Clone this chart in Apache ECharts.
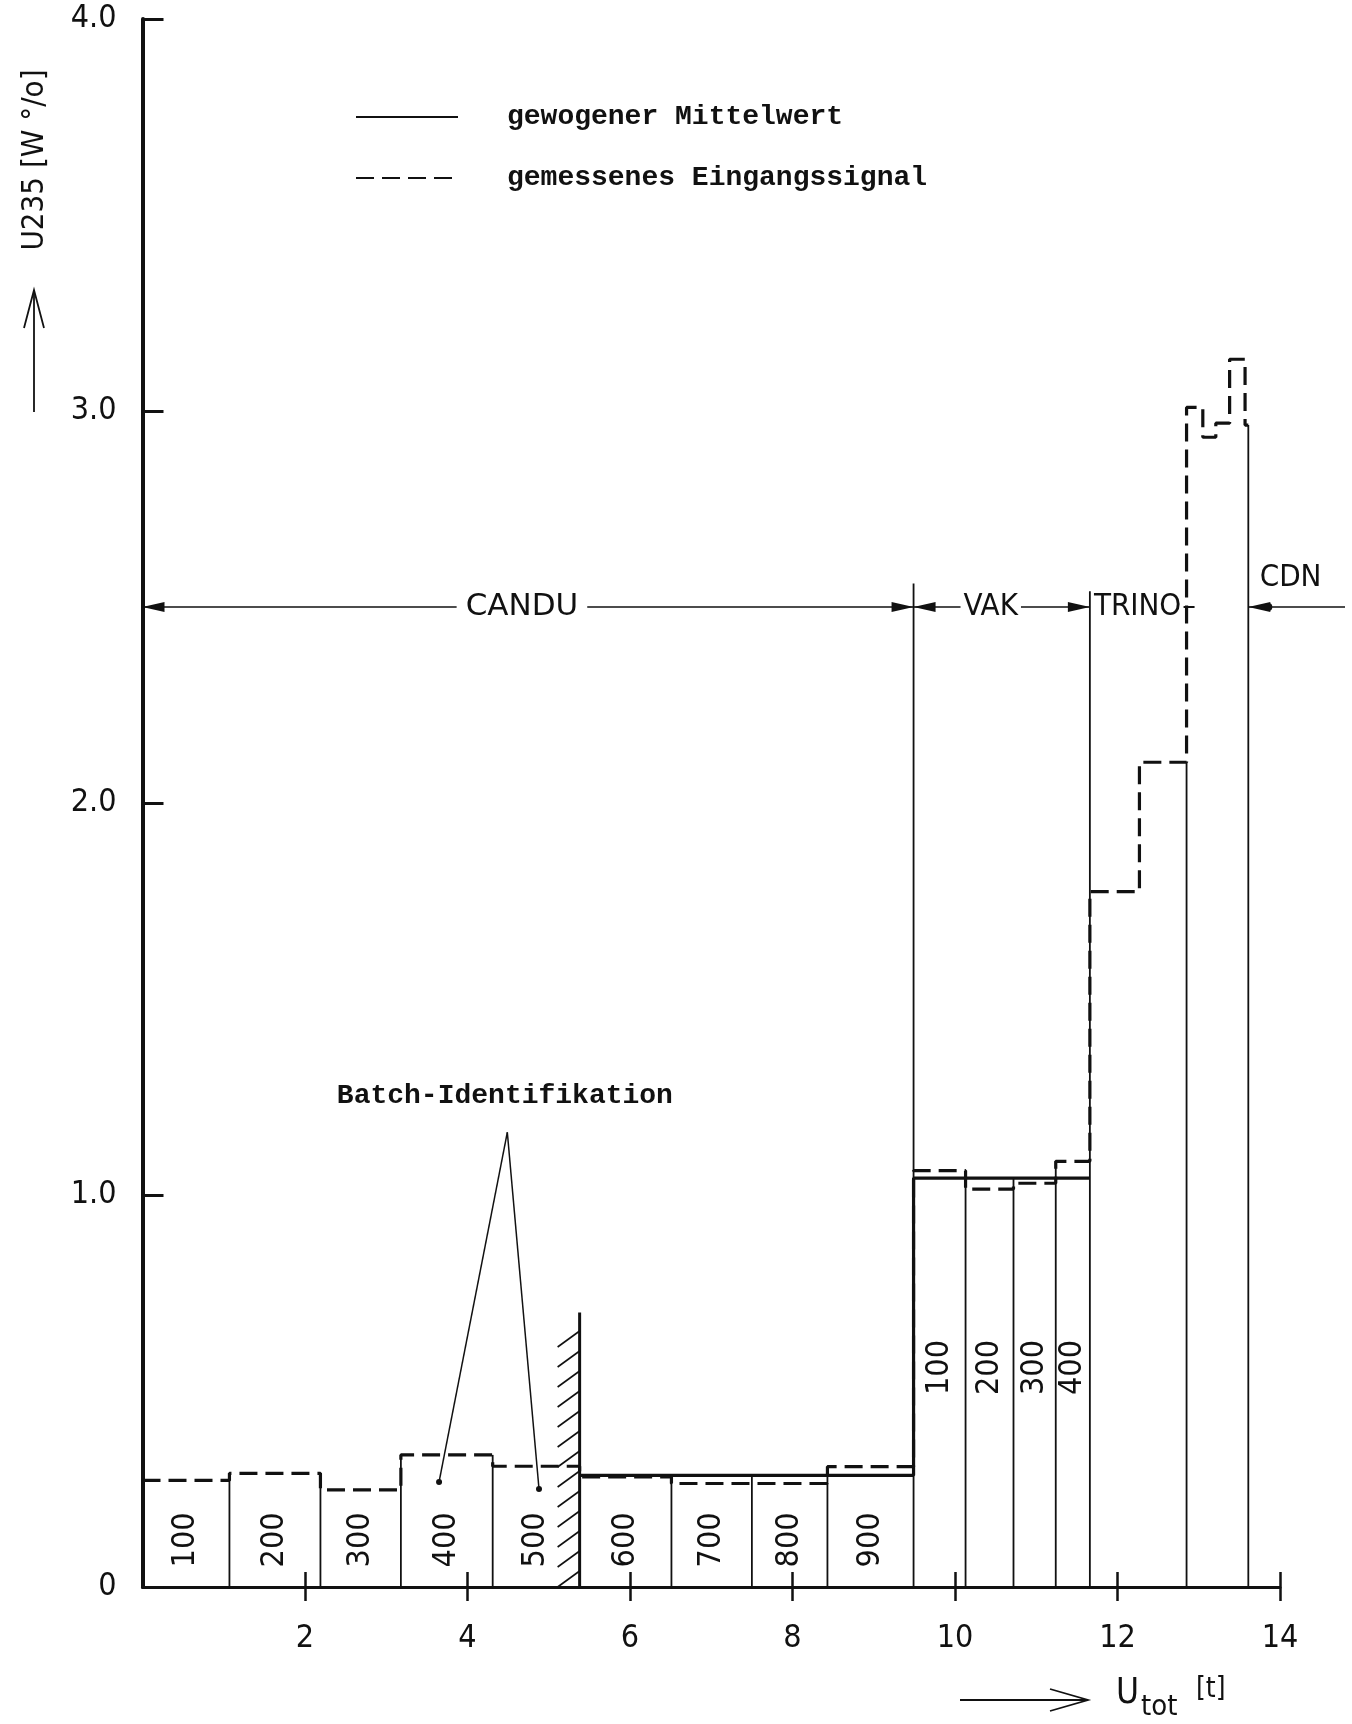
<!DOCTYPE html>
<html><head><meta charset="utf-8">
<script src="https://cdn.jsdelivr.net/npm/echarts@6/dist/echarts.min.js"></script>
<style>html,body{margin:0;padding:0;background:#fff}#c{width:1352px;height:1724px}</style>
</head><body><div id="c"></div>
<script>
// ---------------- data ----------------
const binEdges = [0, 1.07, 2.19, 3.18, 4.31, 5.38, 6.51, 7.50, 8.43, 9.49, 10.13, 10.72, 11.24, 11.66, 12.27, 12.85, 13.05, 13.21, 13.38, 13.57, 13.61];
const signalLevels = [0.272, 0.290, 0.248, 0.337, 0.308, 0.281, 0.264, 0.264, 0.307, 1.062, 1.015, 1.030, 1.086, 1.774, 2.104, 3.009, 2.933, 2.969, 3.132, 2.964];
const meanSegments = [[5.38, 9.49, 0.285], [9.49, 11.66, 1.043]];
const batchLabels = ['100', '200', '300', '400', '500', '600', '700', '800', '900', '100', '200', '300', '400'];
const batchLabelY = [0.12, 0.12, 0.12, 0.12, 0.12, 0.12, 0.12, 0.12, 0.12, 0.56, 0.56, 0.56, 0.56];
const dividerEdgeIdx = [1, 2, 3, 4, 6, 7, 8, 10, 11, 12];
const segmentLines = [[9.49, 2.56], [11.66, 2.54], [12.85, 2.104], [13.61, 2.964]];
const sourceNames = ['CANDU', 'VAK', 'TRINO', 'CDN'];
const sourceLabelX = [4.67, 10.44, 11.66, 14.13];
const bracketY = 2.5;
const cdnLineEnd = 14.8;
const hatch = [5.38, 0.70];
const batchIdText = 'Batch-Identifikation';
const batchIdPos = [4.46, 1.253];
const batchIdApex = [4.49, 1.16];
const batchIdTargets = [[3.65, 0.268], [4.88, 0.25]];
const xTickValues = [2, 4, 6, 8, 10, 12, 14];
const yTickValues = [0, 1, 2, 3, 4];
const yTickLabels = ['0', '1.0', '2.0', '3.0', '4.0'];
const seriesNames = ['gewogener Mittelwert', 'gemessenes Eingangssignal'];
const yTitle = 'U235 [W °/o]';
const xTitle = ['U', 'tot', '[t]'];

// ---------------- derived ----------------
const INK = '#111';
const DIN = "'DejaVu Sans Condensed', 'Liberation Sans Narrow', 'DejaVu Sans', sans-serif";
const DINW = "'DejaVu Sans', sans-serif";
const TYPE = "'Liberation Mono', 'DejaVu Sans Mono', monospace";

const signalPts = [];
signalLevels.forEach((v, i) => { signalPts.push([binEdges[i], v], [binEdges[i + 1], v]); });
const meanPts = [];
meanSegments.forEach(s => { meanPts.push([s[0], s[2]], [s[1], s[2]]); });
function meanAt(x) {
  let m = 0;
  meanSegments.forEach(s => { if (x >= s[0] - 1e-6 && x <= s[1] + 1e-6) m = Math.max(m, s[2]); });
  return m;
}
const dividers = dividerEdgeIdx.map(i => [binEdges[i], Math.max(signalLevels[i - 1], signalLevels[i], meanAt(binEdges[i]))])
  .concat(segmentLines);
const labelPts = batchLabels.map((t, i) => [(binEdges[i] + binEdges[i + 1]) / 2, batchLabelY[i]]);

function renderDivider(params, api) {
  const p = api.coord([api.value(0), 0]);
  const q = api.coord([api.value(0), api.value(1)]);
  return { type: 'line', shape: { x1: p[0], y1: p[1], x2: q[0], y2: q[1] }, style: { stroke: INK, lineWidth: 1.8 } };
}
function renderBatchLabel(params, api) {
  const p = api.coord([api.value(0), api.value(1)]);
  return { type: 'text', x: p[0], y: p[1], rotation: Math.PI / 2,
    style: { text: batchLabels[params.dataIndex], fill: INK, fontFamily: DIN, fontSize: 32, align: 'center', verticalAlign: 'middle' } };
}
function renderAnnotations(params, api) {
  const c = (x, y) => api.coord([x, y]);
  const ch = [];
  const line = (p, q, w) => ({ type: 'line', shape: { x1: p[0], y1: p[1], x2: q[0], y2: q[1] }, style: { stroke: INK, lineWidth: w } });
  const arrow = (tip, dir) => ({ type: 'polygon', shape: { points: [tip, [tip[0] - dir * 22, tip[1] - 5], [tip[0] - dir * 22, tip[1] + 5]] }, style: { fill: INK } });
  const txt = (p, s, extra) => ({ type: 'text', x: p[0], y: p[1], style: Object.assign({ text: s, fill: INK, fontFamily: DIN, fontSize: 31, align: 'center', verticalAlign: 'middle' }, extra || {}) });
  // source brackets
  const b0 = binEdges[0], b1 = segmentLines[0][0], b2 = segmentLines[1][0], b3 = segmentLines[2][0], b4 = segmentLines[3][0];
  ch.push(line(c(b0, bracketY), c(b1, bracketY), 1.6));
  ch.push(arrow(c(b0, bracketY), -1), arrow(c(b1, bracketY), 1));
  ch.push(txt(c(sourceLabelX[0], bracketY), sourceNames[0], { fontFamily: DINW, backgroundColor: '#fff', padding: [2, 9] }));
  ch.push(line(c(b1, bracketY), c(b2, bracketY), 1.6));
  ch.push(arrow(c(b1, bracketY), -1), arrow(c(b2, bracketY), 1));
  ch.push(txt(c(sourceLabelX[1], bracketY), sourceNames[1], { backgroundColor: '#fff', padding: [2, 3] }));
  const tp = c(sourceLabelX[2], bracketY);
  ch.push(txt([tp[0] + 4, tp[1]], sourceNames[2], { align: 'left' }));
  const tk = c(b3, bracketY);
  ch.push(line([tk[0] - 3, tk[1]], [tk[0] + 8, tk[1]], 2));
  ch.push(line(c(b4, bracketY), c(cdnLineEnd, bracketY), 1.6));
  const cdnTip = c(b4, bracketY);
  ch.push(arrow(cdnTip, -1));
  ch.push({ type: 'circle', shape: { cx: cdnTip[0] + 20, cy: cdnTip[1], r: 4 }, style: { fill: INK } });
  const cp = c(sourceLabelX[3], bracketY);
  ch.push(txt([cp[0], cp[1] - 14], sourceNames[3], { verticalAlign: 'bottom' }));
  // hatch
  const h0 = c(hatch[0], 0), h1 = c(hatch[0], hatch[1]);
  ch.push(line(h0, h1, 3));
  for (let y = h0[1] - 16; y > h1[1] + 8; y -= 20) {
    ch.push(line([h0[0], y], [h0[0] - 22, y + 16], 1.6));
  }
  // batch identification
  ch.push(txt(c(batchIdPos[0], batchIdPos[1]), batchIdText, { fontFamily: TYPE, fontWeight: 'bold', fontSize: 28 }));
  const ap = c(batchIdApex[0], batchIdApex[1]);
  batchIdTargets.forEach(t => {
    const tp2 = c(t[0], t[1]);
    ch.push(line(ap, tp2, 1.5));
    ch.push({ type: 'circle', shape: { cx: tp2[0], cy: tp2[1], r: 3 }, style: { fill: INK } });
  });
  return { type: 'group', children: ch };
}

const chart = echarts.init(document.getElementById('c'), null, { renderer: 'canvas' });
chart.setOption({
  animation: false,
  backgroundColor: '#fff',
  grid: { left: 142.5, right: 72, top: 19, bottom: 137, containLabel: false, outerBoundsMode: 'none' },
  legend: {
    left: 350, top: 98, orient: 'vertical', itemWidth: 102, itemHeight: 30, itemGap: 33,
    data: [seriesNames[0], seriesNames[1]],
    itemStyle: { opacity: 0, borderWidth: 0 },
    textStyle: { fontFamily: TYPE, fontWeight: 'bold', fontSize: 28, color: INK, padding: [0, 0, 0, 44] }
  },
  xAxis: [{
    type: 'value', min: 0, max: 14, interval: 2,
    axisLine: { onZero: false, lineStyle: { color: INK, width: 3 } },
    axisTick: { show: true, inside: false, length: 14, customValues: xTickValues, lineStyle: { color: INK, width: 2.5 } },
    axisLabel: { customValues: xTickValues, margin: 36, color: INK, fontFamily: DIN, fontSize: 32 },
    splitLine: { show: false }
  }, {
    type: 'value', min: 0, max: 14, interval: 2, position: 'bottom',
    axisLine: { show: false, onZero: false },
    axisTick: { show: true, inside: true, length: 15, customValues: xTickValues, lineStyle: { color: INK, width: 2.5 } },
    axisLabel: { show: false },
    splitLine: { show: false }
  }],
  yAxis: {
    type: 'value', min: 0, max: 4, interval: 1,
    axisLine: { show: true, lineStyle: { color: INK, width: 4 } },
    axisTick: { show: true, inside: true, length: 21, customValues: yTickValues, lineStyle: { color: INK, width: 3 } },
    axisLabel: { margin: 26, color: INK, fontFamily: DIN, fontSize: 32,
      formatter: v => yTickLabels[yTickValues.indexOf(v)] },
    splitLine: { show: false }
  },
  graphic: [
    { type: 'text', x: 35, y: 160, rotation: Math.PI / 2,
      style: { text: yTitle, fill: INK, fontFamily: DIN, fontSize: 31, align: 'center', verticalAlign: 'middle' } },
    { type: 'polyline', shape: { points: [[34, 412], [34, 290]] }, style: { stroke: INK, lineWidth: 1.8, fill: null } },
    { type: 'polyline', shape: { points: [[24, 328], [34, 290], [44, 328]] }, style: { stroke: INK, lineWidth: 1.8, fill: null } },
    { type: 'polyline', shape: { points: [[960, 1700], [1087, 1700]] }, style: { stroke: INK, lineWidth: 1.8, fill: null } },
    { type: 'polyline', shape: { points: [[1050, 1689], [1088, 1700], [1050, 1711]] }, style: { stroke: INK, lineWidth: 1.8, fill: null } },
    { type: 'text', x: 1116, y: 1711, style: { text: xTitle[0], fill: INK, fontFamily: DIN, fontSize: 35, verticalAlign: 'bottom' } },
    { type: 'text', x: 1141, y: 1722, style: { text: xTitle[1], fill: INK, fontFamily: DIN, fontSize: 29, verticalAlign: 'bottom' } },
    { type: 'text', x: 1196, y: 1704, style: { text: xTitle[2], fill: INK, fontFamily: DIN, fontSize: 28, verticalAlign: 'bottom' } }
  ],
  series: [
    { type: 'custom', name: 'dividers', data: dividers, renderItem: renderDivider, z: 1, silent: true },
    { type: 'custom', name: 'batch', data: labelPts, renderItem: renderBatchLabel, z: 4, silent: true },
    { type: 'custom', name: 'annot', data: [[0, 0]], renderItem: renderAnnotations, z: 5, silent: true, clip: false },
    { type: 'line', name: seriesNames[0], data: meanPts, symbol: 'none', showSymbol: false, z: 3,
      lineStyle: { color: INK, width: 3.2, type: 'solid' }, itemStyle: { color: INK } },
    { type: 'line', name: seriesNames[1], data: signalPts, symbol: 'none', showSymbol: false, z: 3,
      lineStyle: { color: INK, width: 3.2, type: [18, 8] }, itemStyle: { color: INK } }
  ]
});
</script></body></html>
